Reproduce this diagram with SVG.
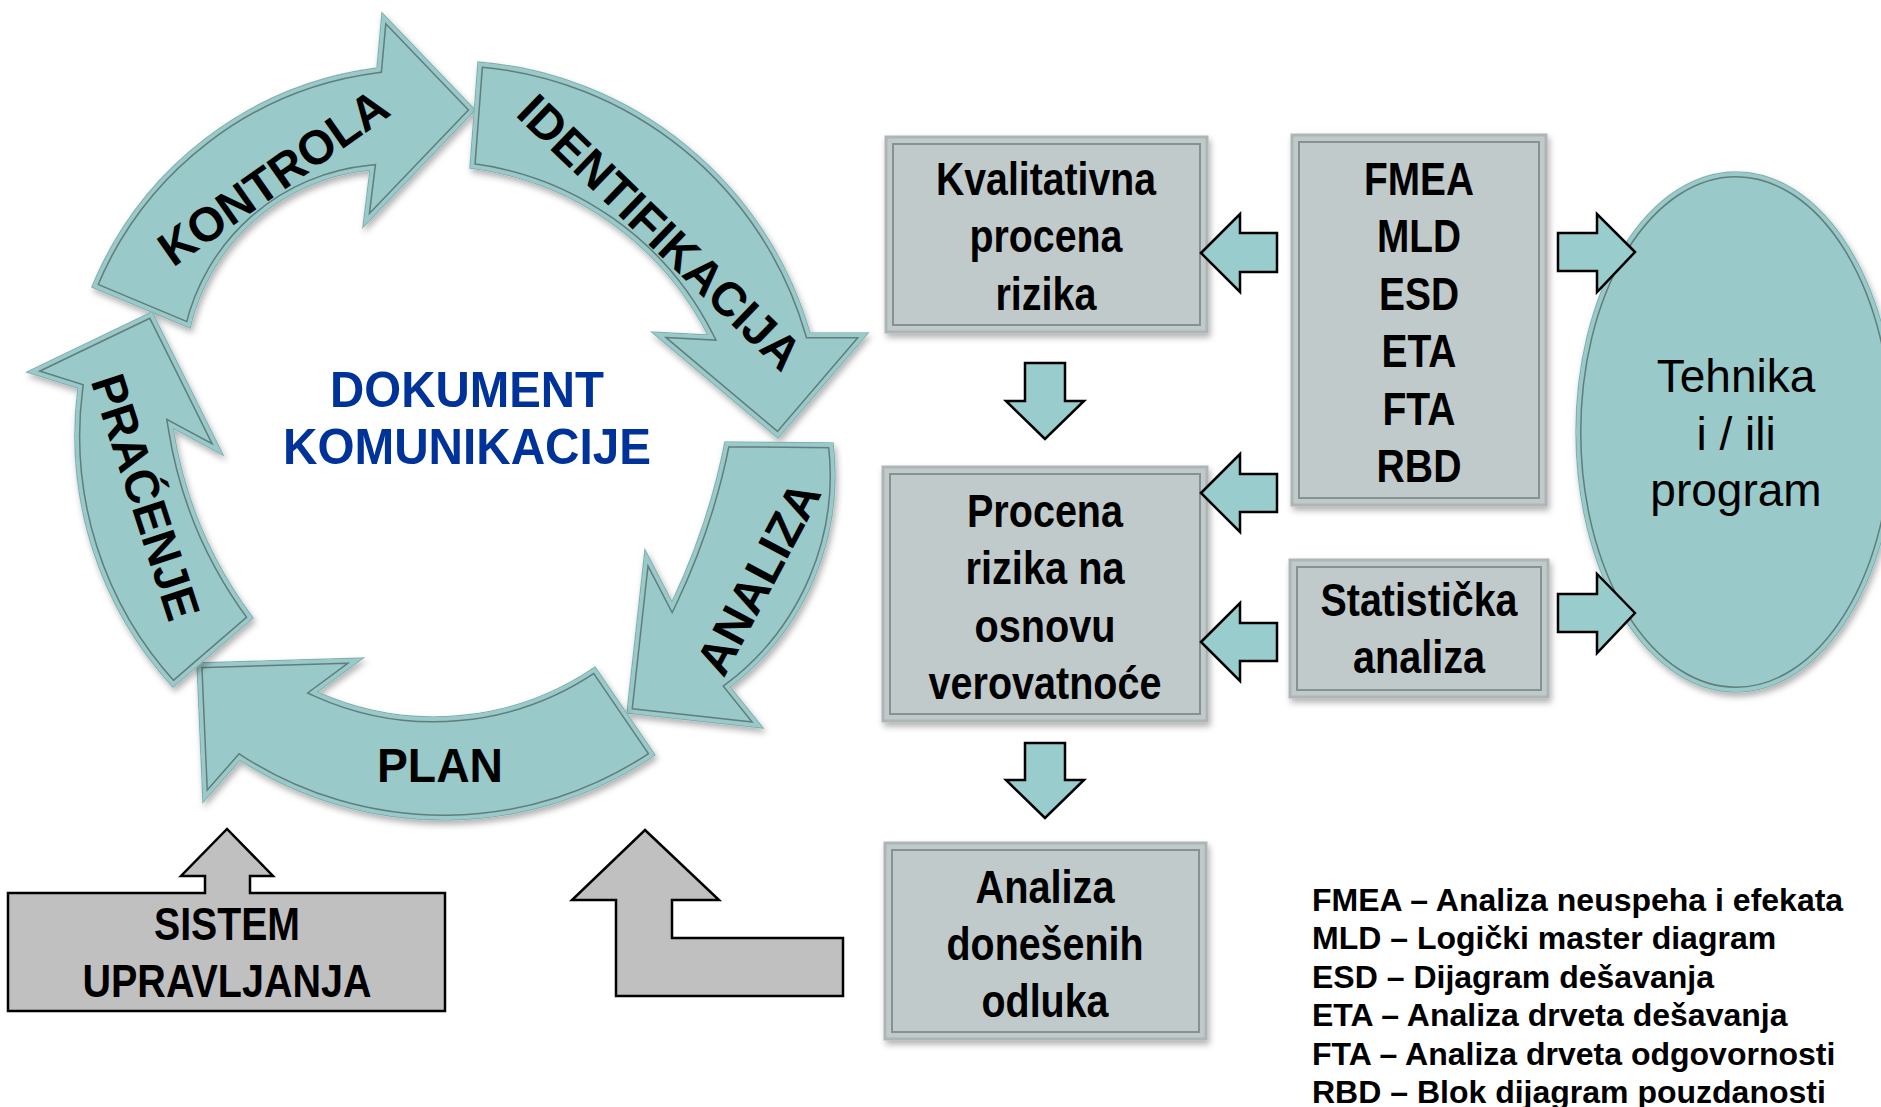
<svg xmlns="http://www.w3.org/2000/svg" xmlns:xlink="http://www.w3.org/1999/xlink" width="1881" height="1107" viewBox="0 0 1881 1107">
  <style>
    .ring { fill: #99c9c8; stroke: #8cb9b9; stroke-width: 1.5; }
    .edge-dark { fill: none; stroke: #4f6363; stroke-width: 11; stroke-opacity: 0.75; }
    .edge-fill { fill: none; stroke: #99c9c8; stroke-width: 8; }
    .ring-lbl { font-family: "Liberation Sans", Arial, sans-serif; font-weight: bold; font-size: 48px; fill: #000; text-anchor: middle; }
    .center-lbl { font-family: "Liberation Sans", Arial, sans-serif; font-weight: bold; font-size: 50px; fill: #003399; text-anchor: middle; }
    .box { fill: #c1caca; stroke: #adb5b5; stroke-width: 3; }
    .box-in { fill: none; stroke: #879191; stroke-width: 2; }
    .box-lbl { font-family: "Liberation Sans", Arial, sans-serif; font-weight: bold; font-size: 46px; fill: #000; text-anchor: middle; }
    .flow { fill: #99cccc; stroke: #000; stroke-width: 2.5; stroke-linejoin: miter; }
    .gray { fill: #c0c0c0; stroke: #000; stroke-width: 2.5; }
    .ell-lbl { font-family: "Liberation Sans", Arial, sans-serif; font-size: 46px; fill: #000; text-anchor: middle; }
    .legend { font-family: "Liberation Sans", Arial, sans-serif; font-weight: bold; font-size: 32px; fill: #000; }
  </style>
  <defs>
    <filter id="soft" x="-10%" y="-10%" width="130%" height="130%">
      <feDropShadow dx="2" dy="4" stdDeviation="3" flood-color="#000" flood-opacity="0.3"/>
    </filter>
    <!-- curved cycle arrows -->
    <path id="p-kontrola" d="M92,287 A357,357 0 0 1 377,68 L382,13 L475,110 L363,227 L370,170 A205,205 0 0 0 190,328 Z"/>
    <path id="p-ident" d="M478,62 A377,377 0 0 1 810,333 L868,333 L778,438 L652,332 L708,335 A310,310 0 0 0 470,168 Z"/>
    <path id="p-analiza" d="M833,443 A266,266 0 0 1 730,687 L763,728 L627,713 L645,550 L672,602 A674,674 0 0 0 725,442 Z"/>
    <path id="p-plan" d="M655,755 A376,376 0 0 1 240,760 L203,802 L197,663 L363,658 L317,692 A285,285 0 0 0 595,667 Z"/>
    <path id="p-pracenje" d="M173,687 A371,371 0 0 1 78,388 L27,372 L152,312 L223,455 L173,428 A429,429 0 0 0 253,618 Z"/>
    <ellipse id="p-tehnika" cx="1736" cy="432" rx="160" ry="260"/>
    <clipPath id="c-kontrola"><use xlink:href="#p-kontrola"/></clipPath>
    <clipPath id="c-ident"><use xlink:href="#p-ident"/></clipPath>
    <clipPath id="c-analiza"><use xlink:href="#p-analiza"/></clipPath>
    <clipPath id="c-plan"><use xlink:href="#p-plan"/></clipPath>
    <clipPath id="c-pracenje"><use xlink:href="#p-pracenje"/></clipPath>
    <clipPath id="c-tehnika"><use xlink:href="#p-tehnika"/></clipPath>
  </defs>

  <rect width="1881" height="1107" fill="#fff"/>

  <!-- cycle -->
  <g id="kontrola">
    <g filter="url(#soft)"><use xlink:href="#p-kontrola" class="ring"/></g>
    <g clip-path="url(#c-kontrola)"><use xlink:href="#p-kontrola" class="edge-dark"/><use xlink:href="#p-kontrola" class="edge-fill"/></g>
    <text class="ring-lbl" transform="translate(273,177) rotate(-35)" y="17" textLength="268" lengthAdjust="spacingAndGlyphs">KONTROLA</text>
  </g>
  <g id="identifikacija">
    <g filter="url(#soft)"><use xlink:href="#p-ident" class="ring"/></g>
    <g clip-path="url(#c-ident)"><use xlink:href="#p-ident" class="edge-dark"/><use xlink:href="#p-ident" class="edge-fill"/></g>
    <text class="ring-lbl" transform="translate(660,232) rotate(44)" y="17" textLength="372" lengthAdjust="spacingAndGlyphs">IDENTIFIKACIJA</text>
  </g>
  <g id="analiza">
    <g filter="url(#soft)"><use xlink:href="#p-analiza" class="ring"/></g>
    <g clip-path="url(#c-analiza)"><use xlink:href="#p-analiza" class="edge-dark"/><use xlink:href="#p-analiza" class="edge-fill"/></g>
    <text class="ring-lbl" transform="translate(758,578) rotate(-62)" y="17" textLength="210" lengthAdjust="spacingAndGlyphs">ANALIZA</text>
  </g>
  <g id="plan">
    <g filter="url(#soft)"><use xlink:href="#p-plan" class="ring"/></g>
    <g clip-path="url(#c-plan)"><use xlink:href="#p-plan" class="edge-dark"/><use xlink:href="#p-plan" class="edge-fill"/></g>
    <text class="ring-lbl" x="440" y="782" font-size="47" textLength="126" lengthAdjust="spacingAndGlyphs">PLAN</text>
  </g>
  <g id="pracenje">
    <g filter="url(#soft)"><use xlink:href="#p-pracenje" class="ring"/></g>
    <g clip-path="url(#c-pracenje)"><use xlink:href="#p-pracenje" class="edge-dark"/><use xlink:href="#p-pracenje" class="edge-fill"/></g>
    <text class="ring-lbl" transform="translate(146,497) rotate(72)" y="17" textLength="255" lengthAdjust="spacingAndGlyphs">PRAĆENJE</text>
  </g>

  <g id="dokument">
    <text class="center-lbl" x="467" y="407" textLength="274" lengthAdjust="spacingAndGlyphs">DOKUMENT</text>
    <text class="center-lbl" x="467" y="464" textLength="368" lengthAdjust="spacingAndGlyphs">KOMUNIKACIJE</text>
  </g>

  <!-- management system input -->
  <g id="sistem">
    <path class="gray" d="M8,893 L205,893 L205,876 L181,876 L227,829 L273,876 L250,876 L250,893 L445,893 L445,1011 L8,1011 Z"/>
    <text class="box-lbl" x="227" y="940" textLength="146" lengthAdjust="spacingAndGlyphs">SISTEM</text>
    <text class="box-lbl" x="227" y="997" textLength="289" lengthAdjust="spacingAndGlyphs">UPRAVLJANJA</text>
  </g>

  <!-- assessment boxes -->
  <g id="kvalitativna">
    <rect class="box" x="886" y="137" width="321" height="195" filter="url(#soft)"/>
    <rect class="box-in" x="893" y="144" width="307" height="181"/>
    <text class="box-lbl" x="1046" y="195" textLength="220" lengthAdjust="spacingAndGlyphs">Kvalitativna</text>
    <text class="box-lbl" x="1046" y="252" textLength="153" lengthAdjust="spacingAndGlyphs">procena</text>
    <text class="box-lbl" x="1046" y="310" textLength="101" lengthAdjust="spacingAndGlyphs">rizika</text>
  </g>
  <g id="tehnike">
    <rect class="box" x="1292" y="135" width="254" height="370" filter="url(#soft)"/>
    <rect class="box-in" x="1299" y="142" width="240" height="356"/>
    <text class="box-lbl" x="1419" y="195" textLength="110" lengthAdjust="spacingAndGlyphs">FMEA</text>
    <text class="box-lbl" x="1419" y="252" textLength="84" lengthAdjust="spacingAndGlyphs">MLD</text>
    <text class="box-lbl" x="1419" y="310" textLength="80" lengthAdjust="spacingAndGlyphs">ESD</text>
    <text class="box-lbl" x="1419" y="367" textLength="75" lengthAdjust="spacingAndGlyphs">ETA</text>
    <text class="box-lbl" x="1419" y="425" textLength="73" lengthAdjust="spacingAndGlyphs">FTA</text>
    <text class="box-lbl" x="1419" y="482" textLength="85" lengthAdjust="spacingAndGlyphs">RBD</text>
  </g>
  <g id="procena">
    <rect class="box" x="883" y="467" width="324" height="254" filter="url(#soft)"/>
    <rect class="box-in" x="890" y="474" width="310" height="240"/>
    <text class="box-lbl" x="1045" y="527" textLength="156" lengthAdjust="spacingAndGlyphs">Procena</text>
    <text class="box-lbl" x="1045" y="584" textLength="159" lengthAdjust="spacingAndGlyphs">rizika na</text>
    <text class="box-lbl" x="1045" y="642" textLength="141" lengthAdjust="spacingAndGlyphs">osnovu</text>
    <text class="box-lbl" x="1045" y="699" textLength="233" lengthAdjust="spacingAndGlyphs">verovatnoće</text>
  </g>
  <g id="statisticka">
    <rect class="box" x="1290" y="560" width="258" height="137" filter="url(#soft)"/>
    <rect class="box-in" x="1297" y="567" width="244" height="123"/>
    <text class="box-lbl" x="1419" y="616" textLength="197" lengthAdjust="spacingAndGlyphs">Statistička</text>
    <text class="box-lbl" x="1419" y="673" textLength="132" lengthAdjust="spacingAndGlyphs">analiza</text>
  </g>
  <g id="odluke">
    <rect class="box" x="885" y="843" width="321" height="196" filter="url(#soft)"/>
    <rect class="box-in" x="892" y="850" width="307" height="182"/>
    <text class="box-lbl" x="1045" y="903" textLength="139" lengthAdjust="spacingAndGlyphs">Analiza</text>
    <text class="box-lbl" x="1045" y="960" textLength="197" lengthAdjust="spacingAndGlyphs">donešenih</text>
    <text class="box-lbl" x="1045" y="1017" textLength="127" lengthAdjust="spacingAndGlyphs">odluka</text>
  </g>

  <g id="tehnika">
    <g filter="url(#soft)"><use xlink:href="#p-tehnika" class="ring"/></g>
    <g clip-path="url(#c-tehnika)"><use xlink:href="#p-tehnika" class="edge-dark"/><use xlink:href="#p-tehnika" class="edge-fill"/></g>
    <text class="ell-lbl" x="1736" y="392">Tehnika</text>
    <text class="ell-lbl" x="1736" y="450">i / ili</text>
    <text class="ell-lbl" x="1736" y="506">program</text>
  </g>

  <!-- connectors -->
  <g id="connectors">
    <path class="flow" d="M1201,253 L1240,214 L1240,233 L1277,233 L1277,272 L1240,272 L1240,292 Z"/>
    <path class="flow" d="M1201,493 L1240,454 L1240,474 L1277,474 L1277,512 L1240,512 L1240,532 Z"/>
    <path class="flow" d="M1201,642 L1240,603 L1240,623 L1277,623 L1277,661 L1240,661 L1240,681 Z"/>
    <path class="flow" d="M1635,252 L1597,214 L1597,233 L1558,233 L1558,271 L1597,271 L1597,292 Z"/>
    <path class="flow" d="M1635,613 L1597,574 L1597,594 L1558,594 L1558,632 L1597,632 L1597,653 Z"/>
    <path class="flow" d="M1045,439 L1006,401 L1025,401 L1025,363 L1065,363 L1065,401 L1084,401 Z"/>
    <path class="flow" d="M1045,818 L1006,780 L1025,780 L1025,743 L1065,743 L1065,780 L1084,780 Z"/>
    <path class="gray" d="M645,830 L719,900 L672,900 L672,938 L843,938 L843,996 L616,996 L616,900 L572,900 Z"/>
  </g>

  <!-- abbreviations -->
  <g id="legenda">
    <text class="legend" x="1312" y="911">FMEA – Analiza neuspeha i efekata</text>
    <text class="legend" x="1312" y="949">MLD – Logički master diagram</text>
    <text class="legend" x="1312" y="988">ESD – Dijagram dešavanja</text>
    <text class="legend" x="1312" y="1026">ETA – Analiza drveta dešavanja</text>
    <text class="legend" x="1312" y="1065">FTA – Analiza drveta odgovornosti</text>
    <text class="legend" x="1312" y="1103">RBD – Blok dijagram pouzdanosti</text>
  </g>
</svg>
